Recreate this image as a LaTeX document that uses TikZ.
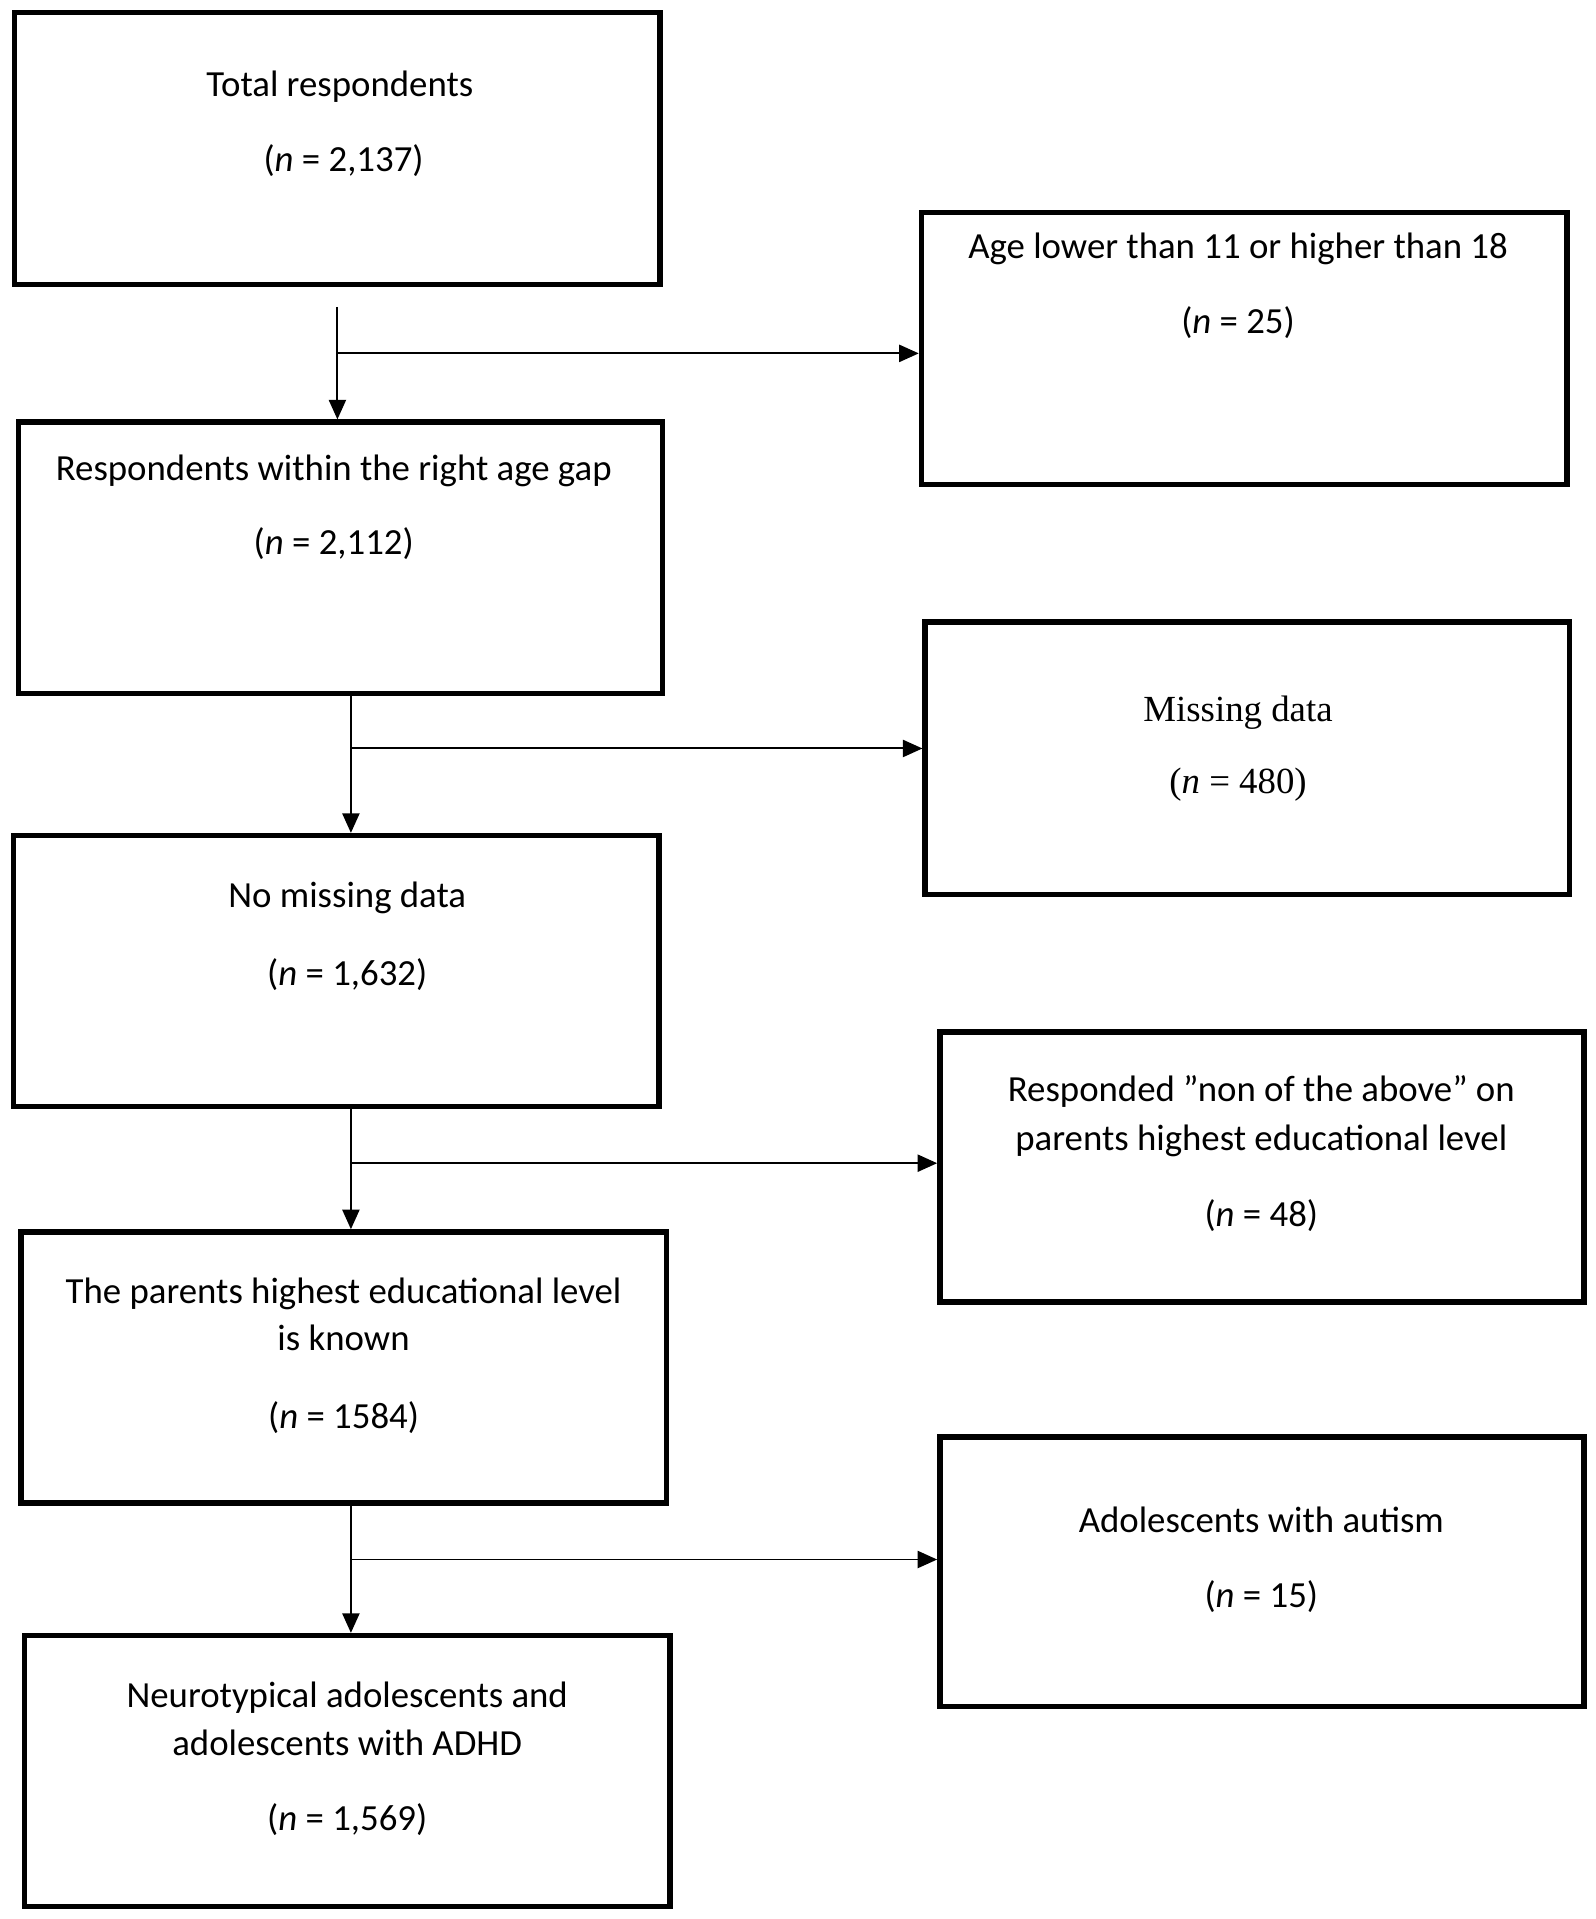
\documentclass[tikz,border=0pt]{standalone}
\usepackage{fontspec}
\setmainfont{Carlito}
\newfontfamily\timesf{Liberation Serif}
\usetikzlibrary{arrows.meta}
\tikzset{
  box/.style={draw=black, line width=2.2pt, rectangle, inner sep=0pt},
  lbl/.style={inner sep=0pt, anchor=base, font=\fontsize{15}{19}\selectfont},
  conn/.style={draw=black, line width=0.8pt, -{Triangle[length=8pt,width=7pt]}}
}
\begin{document}
\begin{tikzpicture}[x=0.5pt,y=-0.5pt]
\useasboundingbox[fill=white] (0,0) rectangle (1300,1564);
% boxes
\node[box, minimum width=263pt, minimum height=111pt] (b1) at (275,121) {};
\node[box, minimum width=263pt, minimum height=111pt] (bA) at (1014,284) {};
\node[box, minimum width=262.5pt, minimum height=110.5pt] (b2) at (277.5,454.5) {};
\node[box, minimum width=262.5pt, minimum height=111pt] (bB) at (1016.5,618) {};
\node[box, minimum width=263pt, minimum height=110.5pt] (b3) at (274,791.5) {};
\node[box, minimum width=262.5pt, minimum height=110pt] (bC) at (1028.5,951) {};
\node[box, minimum width=263pt, minimum height=110.5pt] (b4) at (280,1114.5) {};
\node[box, minimum width=262.5pt, minimum height=110pt] (bD) at (1028.5,1281) {};
\node[box, minimum width=263pt, minimum height=110.5pt] (b5) at (283,1443.5) {};
% texts
\node[lbl] (t1a) at (277,79) {Total respondents};
\node[lbl] (t1b) at (280,140) {(\textit{n} = 2,137)};
\node[lbl] (tAa) at (1009,211) {Age lower than 11 or higher than 18};
\node[lbl] (tAb) at (1009,272) {(\textit{n} = 25)};
\node[lbl] (t2a) at (272,392) {Respondents within the right age gap};
\node[lbl] (t2b) at (272,452) {(\textit{n} = 2,112)};
\node[lbl, font=\timesf\fontsize{15}{19}\selectfont] (tBa) at (1009,588) {Missing data};
\node[lbl, font=\timesf\fontsize{15}{19}\selectfont] (tBb) at (1009,647) {(\textit{n} = 480)};
\node[lbl] (t3a) at (283,740) {No missing data};
\node[lbl] (t3b) at (283,803) {(\textit{n} = 1,632)};
\node[lbl] (tCa) at (1028,898) {Responded ”non of the above” on};
\node[lbl] (tCb) at (1028,938) {parents highest educational level};
\node[lbl] (tCc) at (1028,1000) {(\textit{n} = 48)};
\node[lbl] (t4a) at (280,1062) {The parents highest educational level};
\node[lbl] (t4b) at (280,1101) {is known};
\node[lbl] (t4c) at (280,1164) {(\textit{n} = 1584)};
\node[lbl] (tDa) at (1028,1249) {Adolescents with autism};
\node[lbl] (tDb) at (1028,1310) {(\textit{n} = 15)};
\node[lbl] (t5a) at (283,1392) {Neurotypical adolescents and};
\node[lbl] (t5b) at (283,1431) {adolescents with ADHD};
\node[lbl] (t5c) at (283,1492) {(\textit{n} = 1,569)};
% connectors
\coordinate (s1) at (275,250);
\coordinate (j1) at (275,288);
\draw[conn] (s1) -- (s1 |- b2.north);
\draw[conn] (j1) -- (j1 -| bA.west);
\coordinate (j2) at (286,610);
\draw[conn] (b2.south -| j2) -- (b3.north -| j2);
\draw[conn] (j2) -- (j2 -| bB.west);
\coordinate (j3) at (286,948);
\draw[conn] (b3.south -| j3) -- (b4.north -| j3);
\draw[conn] (j3) -- (j3 -| bC.west);
\coordinate (j4) at (286,1271);
\draw[conn] (b4.south -| j4) -- (b5.north -| j4);
\draw[conn] (j4) -- (j4 -| bD.west);
\end{tikzpicture}
\end{document}
